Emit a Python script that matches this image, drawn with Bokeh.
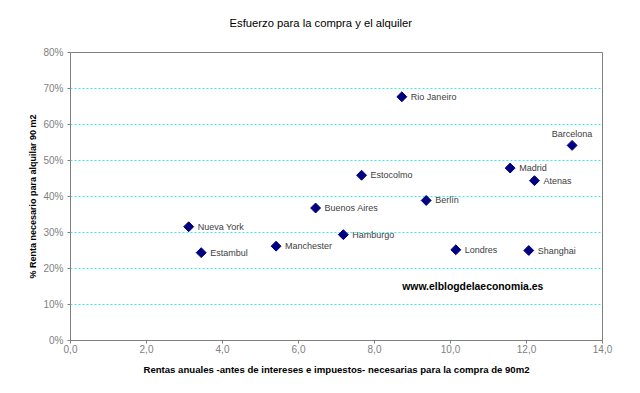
import math
from bokeh.plotting import figure
from bokeh.models import (ColumnDataSource, FixedTicker, CustomJSTickFormatter,
                          Label, Range1d, Title)
from bokeh.core.properties import value
from bokeh.embed import file_html
from bokeh.resources import INLINE

# ---- data ----
cities = ["Rio Janeiro", "Barcelona", "Madrid", "Atenas", "Estocolmo", "Berlín",
          "Buenos Aires", "Nueva York", "Hamburgo", "Manchester", "Estambul",
          "Londres", "Shanghai"]
rentas = [8.72, 13.20, 11.57, 12.21, 7.66, 9.36, 6.45, 3.11, 7.18, 5.41, 3.44,
          10.14, 12.06]
alquiler = [67.7, 54.2, 47.9, 44.4, 45.9, 38.9, 36.8, 31.6, 29.4, 26.2, 24.4,
            25.2, 25.0]
x_ticks = [0, 2, 4, 6, 8, 10, 12, 14]
y_ticks = [0, 10, 20, 30, 40, 50, 60, 70, 80]
title_text = "Esfuerzo para la compra y el alquiler"
x_label = "Rentas anuales -antes de intereses e impuestos- necesarias para la compra de 90m2"
y_label = "% Renta necesario para alquilar 90 m2"
watermark = "www.elblogdelaeconomia.es"
watermark_pos = (8.73, 14.9)
above_label = ["Barcelona"]

FONT = "Liberation Sans"

src = ColumnDataSource(dict(x=rentas, y=alquiler, name=cities))
right_idx = [i for i, c in enumerate(cities) if c not in above_label]
top_idx = [i for i, c in enumerate(cities) if c in above_label]
src_right = ColumnDataSource(dict(x=[rentas[i] for i in right_idx],
                                  y=[alquiler[i] for i in right_idx],
                                  name=[cities[i] for i in right_idx]))
src_top = ColumnDataSource(dict(x=[rentas[i] for i in top_idx],
                                y=[alquiler[i] for i in top_idx],
                                name=[cities[i] for i in top_idx]))

p = figure(width=624, height=377, output_backend="svg", toolbar_location=None,
           x_range=Range1d(x_ticks[0], x_ticks[-1]),
           y_range=Range1d(y_ticks[0], y_ticks[-1]),
           min_border_left=70, min_border_right=22,
           min_border_top=52, min_border_bottom=37)
p.background_fill_color = "white"
p.border_fill_color = "white"
p.outline_line_color = "#808080"
p.outline_line_width = 1

# chart title (outermost) + a thin spacer between it and the frame
p.title.text = title_text
p.title.align = "left"
p.title.offset = 159
p.title.standoff = 29
p.title.text_font = FONT
p.title.text_font_size = "11.25px"
p.title.text_font_style = "normal"
p.title.text_color = "black"
p.add_layout(Title(text=" ", text_font_size="2px", standoff=5), "above")

# grid
p.xgrid.visible = False
p.ygrid.ticker = FixedTicker(ticks=y_ticks)
p.ygrid.grid_line_color = "#33eeee"
p.ygrid.grid_line_dash = "2 2"
p.ygrid.grid_line_width = 1

# axes
p.xaxis.ticker = FixedTicker(ticks=x_ticks)
p.yaxis.ticker = FixedTicker(ticks=y_ticks)
p.xaxis.formatter = CustomJSTickFormatter(code="return tick.toFixed(1).replace('.', ',');")
p.yaxis.formatter = CustomJSTickFormatter(code="return tick.toFixed(0) + '%';")
for ax in (p.xaxis[0], p.yaxis[0]):
    ax.axis_line_color = "#808080"
    ax.major_tick_line_color = "#808080"
    ax.minor_tick_line_color = None
    ax.major_tick_in = 0
    ax.major_tick_out = 3
    ax.major_label_text_font = FONT
    ax.major_label_text_font_size = "10px"
    ax.major_label_text_color = "#808080"
    ax.axis_label_text_font = FONT
    ax.axis_label_text_font_style = "bold"
    ax.axis_label_text_color = "black"
p.xaxis.axis_label = x_label
p.yaxis.axis_label = y_label
p.xaxis.axis_label_text_font_size = "9.6px"
p.yaxis.axis_label_text_font_size = "9px"
p.xaxis.major_label_standoff = 1
p.yaxis.major_label_standoff = 4
p.xaxis.axis_label_standoff = 8
p.yaxis.axis_label_standoff = 2

# markers
p.scatter("x", "y", source=src, marker="square", angle=math.pi / 4, size=7,
          fill_color="#000080", line_color="#000080")

# labels
p.text("x", "y", text="name", source=src_right, x_offset=9,
       text_align="left", text_baseline="middle",
       text_font=value(FONT), text_font_size="9px", text_color="#404040")
p.text("x", "y", text="name", source=src_top, y_offset=-11,
       text_align="center", text_baseline="middle",
       text_font=value(FONT), text_font_size="9px", text_color="#404040")

p.add_layout(Label(x=watermark_pos[0], y=watermark_pos[1], text=watermark,
                   text_align="left", text_baseline="middle",
                   text_font=FONT, text_font_size="10.4px",
                   text_font_style="bold", text_color="black"))

open("out.html", "w").write(file_html(p, INLINE))
